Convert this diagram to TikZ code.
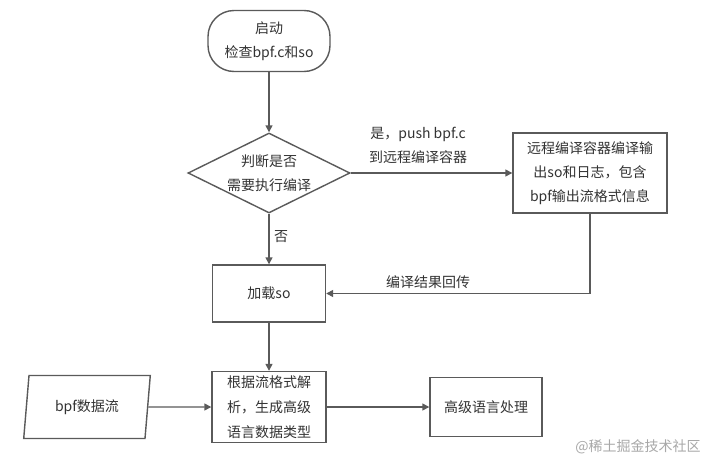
\documentclass[tikz,border=0pt]{standalone}
\usepackage{fontspec}
\setmainfont{Noto Sans CJK SC}
\usetikzlibrary{shapes.geometric,arrows.meta}
\definecolor{ln}{HTML}{5A5A5A}
\definecolor{txt}{HTML}{333333}
\definecolor{wm}{HTML}{A8A8A8}
\begin{document}
\begin{tikzpicture}[x=1pt,y=-1pt,
 every node/.style={font=\fontsize{14pt}{24pt}\selectfont, text=txt},
 box/.style={draw=ln, line width=1.4pt, inner sep=0pt, align=center},
 conn/.style={draw=ln, line width=1.4pt, -{Triangle[length=7pt,width=7pt]}},
 lbl/.style={align=center}]
\fill[white] (0,0) rectangle (720,471);
\useasboundingbox (0,0) rectangle (720,471);

\node[box, rounded corners=26pt, minimum width=122pt, minimum height=61pt] (start) at (269,41) {启动\\检查bpf.c和so};
\node[box, diamond, aspect=2, minimum width=162pt, minimum height=80pt] (dec) at (269,173) {判断是否\\需要执行编译};
\node[box, minimum width=154pt, minimum height=80pt] (remote) at (590,173) {远程编译容器编译输\\出so和日志，包含\\bpf输出流格式信息};
\node[box, minimum width=113pt, minimum height=57pt] (load) at (269,293.5) {加载so};
\node[box, minimum width=114pt, minimum height=71pt, font=\fontsize{14pt}{25pt}\selectfont] (parse) at (269,407) {根据流格式解\\析，生成高级\\语言数据类型};
\node[box, minimum width=112pt, minimum height=59pt] (high) at (486,407) {高级语言处理};
\node[box, trapezium, trapezium left angle=79, trapezium right angle=101, trapezium stretches=true, minimum width=127pt, minimum height=63pt] (bpf) at (87,407) {bpf数据流};

\draw[conn] (start) -- (dec);
\draw[conn] (dec) -- (remote);
\node[lbl] (l1) at (418,145) {是，push bpf.c\\到远程编译容器};
\draw[conn] (dec) -- (load);
\node (no) at (281,237) {否};
\draw[conn] (remote.south) |- (load.east);
\node (l2) at (428,282) {编译结果回传};
\draw[conn] (load) -- (parse);
\draw[conn] (bpf) -- (parse);
\draw[conn] (parse) -- (high);

\node[text=wm, font=\fontsize{14pt}{16pt}\selectfont] (wmk) at (638,447) {@稀土掘金技术社区};
\end{tikzpicture}
\end{document}
